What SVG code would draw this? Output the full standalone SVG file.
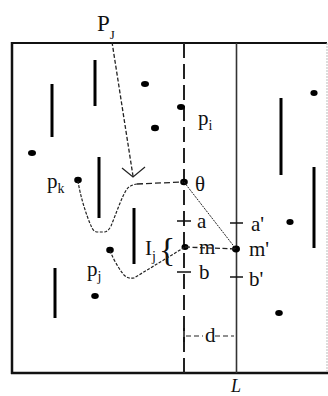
<svg xmlns="http://www.w3.org/2000/svg" width="328" height="396" viewBox="0 0 328 396">
<style>
text{font-family:"Liberation Serif","Times New Roman",serif;fill:#111;font-size:21px}
.sub{font-size:14px}
.bar{stroke:#000;stroke-width:3;stroke-linecap:butt}
.dot{fill:#000}
.tick{stroke:#111;stroke-width:1.5}
.path{fill:none;stroke:#222;stroke-width:1.2;stroke-dasharray:3 1.5}
</style>
<rect width="328" height="396" fill="#fff"/>
<g id="frame">
<line x1="12" y1="43" x2="327" y2="43" stroke="#111" stroke-width="2"/>
<line x1="12" y1="42" x2="12" y2="374" stroke="#111" stroke-width="2.5"/>
<line x1="11" y1="373" x2="328" y2="373" stroke="#111" stroke-width="2.5"/>
<line x1="327" y1="43" x2="327" y2="373" stroke="#bbb" stroke-width="1" stroke-dasharray="2 1"/>
</g>
<g id="line-dashed">
<line x1="184" y1="43" x2="184" y2="373" stroke="#222" stroke-width="2" stroke-dasharray="15 6"/>
<line class="tick" x1="184" y1="328" x2="184" y2="342"/>
</g>
<g id="line-L">
<line x1="236.5" y1="43" x2="236.5" y2="373" stroke="#333" stroke-width="1.6"/>
<text x="231" y="392" style="font-style:italic;font-size:18px">L</text>
</g>
<g id="obstacles">
<line class="bar" x1="52" y1="84" x2="52" y2="137"/>
<line class="bar" x1="95" y1="60" x2="95" y2="106"/>
<line class="bar" x1="99" y1="157" x2="99" y2="218"/>
<line class="bar" x1="134" y1="208" x2="134" y2="264"/>
<line class="bar" x1="55" y1="268" x2="55" y2="318"/>
<line class="bar" x1="281" y1="98" x2="281" y2="175"/>
<line class="bar" x1="314" y1="167" x2="314" y2="248"/>
</g>
<g id="points">
<ellipse class="dot" cx="145" cy="84" rx="4" ry="3"/>
<ellipse class="dot" cx="155" cy="128" rx="4" ry="3.2"/>
<ellipse class="dot" cx="32" cy="153" rx="4" ry="3"/>
<ellipse class="dot" cx="314" cy="93" rx="3.6" ry="3"/>
<ellipse class="dot" cx="290" cy="222" rx="3.6" ry="3"/>
<ellipse class="dot" cx="279" cy="313" rx="3.8" ry="3"/>
<ellipse class="dot" cx="95" cy="296" rx="3.8" ry="3"/>
</g>
<g id="node-pi">
<ellipse class="dot" cx="181" cy="107" rx="4" ry="3"/>
<text x="198" y="125">p<tspan class="sub" dy="5">i</tspan></text>
</g>
<g id="node-pk">
<ellipse class="dot" cx="78" cy="180" rx="3.8" ry="3.2"/>
<text x="47" y="188">p<tspan class="sub" dy="5">k</tspan></text>
</g>
<g id="node-pj">
<ellipse class="dot" cx="110" cy="250" rx="3.8" ry="3.2"/>
<text x="87" y="276">p<tspan class="sub" dy="5">j</tspan></text>
</g>
<g id="node-theta">
<ellipse class="dot" cx="184" cy="182" rx="3.8" ry="3.2"/>
<text x="195" y="191">θ</text>
</g>
<g id="node-m">
<ellipse class="dot" cx="185" cy="247" rx="3.5" ry="3"/>
<text x="199" y="254">m</text>
</g>
<g id="node-m2">
<ellipse class="dot" cx="236" cy="249" rx="4" ry="3.4"/>
<text x="249" y="256">m'</text>
</g>
<g id="node-a">
<line class="tick" x1="177" y1="221" x2="191" y2="221"/>
<text x="197" y="228">a</text>
</g>
<g id="node-b">
<line class="tick" x1="177" y1="272" x2="191" y2="272"/>
<text x="199" y="279">b</text>
</g>
<g id="node-a2">
<line class="tick" x1="230" y1="223" x2="243" y2="223"/>
<text x="251" y="231">a'</text>
</g>
<g id="node-b2">
<line class="tick" x1="230" y1="277" x2="243" y2="277"/>
<text x="249" y="286">b'</text>
</g>
<g id="node-Ij">
<text x="145" y="255">I<tspan class="sub" dy="6">j</tspan></text>
<text x="159" y="261" style="font-size:34px">{</text>
</g>
<g id="node-d">
<text x="205" y="342">d</text>
</g>
<g id="node-PJ">
<text x="97" y="31" style="font-size:23px">P<tspan dy="8" style="font-size:13px">J</tspan></text>
</g>
<g id="connectors">
<path class="path" d="M78,181 C80,195 86,215 92,228 Q94,232 98,232 L104,232 Q108,232 111,226 C116,214 122,196 127,189 Q130,185 137,184"/>
<path d="M137,184 L183,182" fill="none" stroke="#222" stroke-width="1.3" stroke-dasharray="6 3"/>
<path class="path" d="M110,251 C113,258 118,268 124,275 Q128,279 134,278 L185,247"/>
<path d="M185,247 L236,249" fill="none" stroke="#222" stroke-width="1.3" stroke-dasharray="5 2.5"/>
<path d="M184,182 L236,249" fill="none" stroke="#222" stroke-width="1" stroke-dasharray="2 1"/>
<path d="M112,42 L133,176" fill="none" stroke="#222" stroke-width="1.3" stroke-dasharray="4 2"/>
<path d="M122,168 L133,177 L145,167" fill="none" stroke="#222" stroke-width="1.2"/>
<path d="M186,336 L203,336 M215,336 L234,336" fill="none" stroke="#222" stroke-width="1.2" stroke-dasharray="5 3"/>
</g>
</svg>
